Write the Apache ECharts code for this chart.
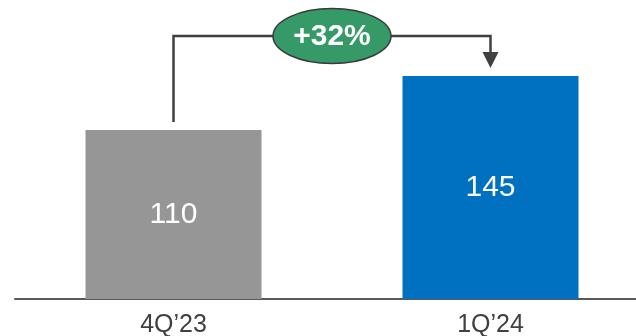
<!DOCTYPE html>
<html>
<head>
<meta charset="utf-8">
<title>4Q'23 vs 1Q'24</title>
<script src="https://cdn.jsdelivr.net/npm/echarts@6/dist/echarts.min.js"></script>
<style>
  * { margin: 0; padding: 0; }
  body { background: #fff; overflow: hidden; }
  #main { width: 636px; height: 336px; }
</style>
</head>
<body>
<div id="main"></div>
<script>
var categories = ['4Q\u201923', '1Q\u201924'];
var values = [110, 145];
var barColors = ['#969696', '#0070C0'];
var growthText = '+32%';

var myChart = echarts.init(document.getElementById('main'));
var font = 'Liberation Sans, Arial, sans-serif';

var option = {
    animation: false,
    grid: {
        left: 15,
        width: 634,
        top: 53,
        bottom: 37,
        containLabel: false,
        outerBoundsMode: 'none'
    },
    xAxis: {
        type: 'category',
        data: categories,
        axisTick: { show: false },
        axisLine: { lineStyle: { color: '#595959', width: 2 } },
        axisLabel: {
            fontSize: 25,
            fontFamily: font,
            color: '#404040',
            margin: 14
        }
    },
    yAxis: {
        type: 'value',
        min: 0,
        max: 160,
        show: false
    },
    series: [{
        type: 'bar',
        barWidth: 176,
        data: values.map(function (v, i) {
            return { value: v, itemStyle: { color: barColors[i] } };
        }),
        label: {
            show: true,
            position: 'inside',
            color: '#fff',
            fontSize: 30,
            fontFamily: font
        }
    }]
};
myChart.setOption(option);

// growth bracket from first bar to second bar
var p1 = myChart.convertToPixel({ seriesIndex: 0 }, [0, values[0]]);
var p2 = myChart.convertToPixel({ seriesIndex: 0 }, [1, values[1]]);
var topY = p2[1] - 40;
var tipY = p2[1] - 8;
var midX = (p1[0] + p2[0]) / 2;

myChart.setOption({
    graphic: [
        {
            type: 'polyline',
            z: 10,
            shape: { points: [[p1[0], p1[1] - 8], [p1[0], topY], [p2[0], topY], [p2[0], tipY - 14]] },
            style: { stroke: '#404040', lineWidth: 2.5, fill: null }
        },
        {
            type: 'polygon',
            z: 10,
            shape: { points: [[p2[0] - 8, tipY - 16], [p2[0] + 8, tipY - 16], [p2[0], tipY]] },
            style: { fill: '#404040' }
        },
        {
            type: 'ellipse',
            z: 11,
            shape: { cx: midX, cy: topY, rx: 59, ry: 27.5 },
            style: { fill: '#359A67', stroke: '#3a3a3a', lineWidth: 1.5 }
        },
        {
            type: 'text',
            z: 12,
            x: midX,
            y: topY + 1,
            style: {
                text: growthText,
                fill: '#fff',
                font: 'bold 30px ' + font,
                align: 'center',
                verticalAlign: 'middle'
            }
        }
    ]
});
</script>
</body>
</html>
